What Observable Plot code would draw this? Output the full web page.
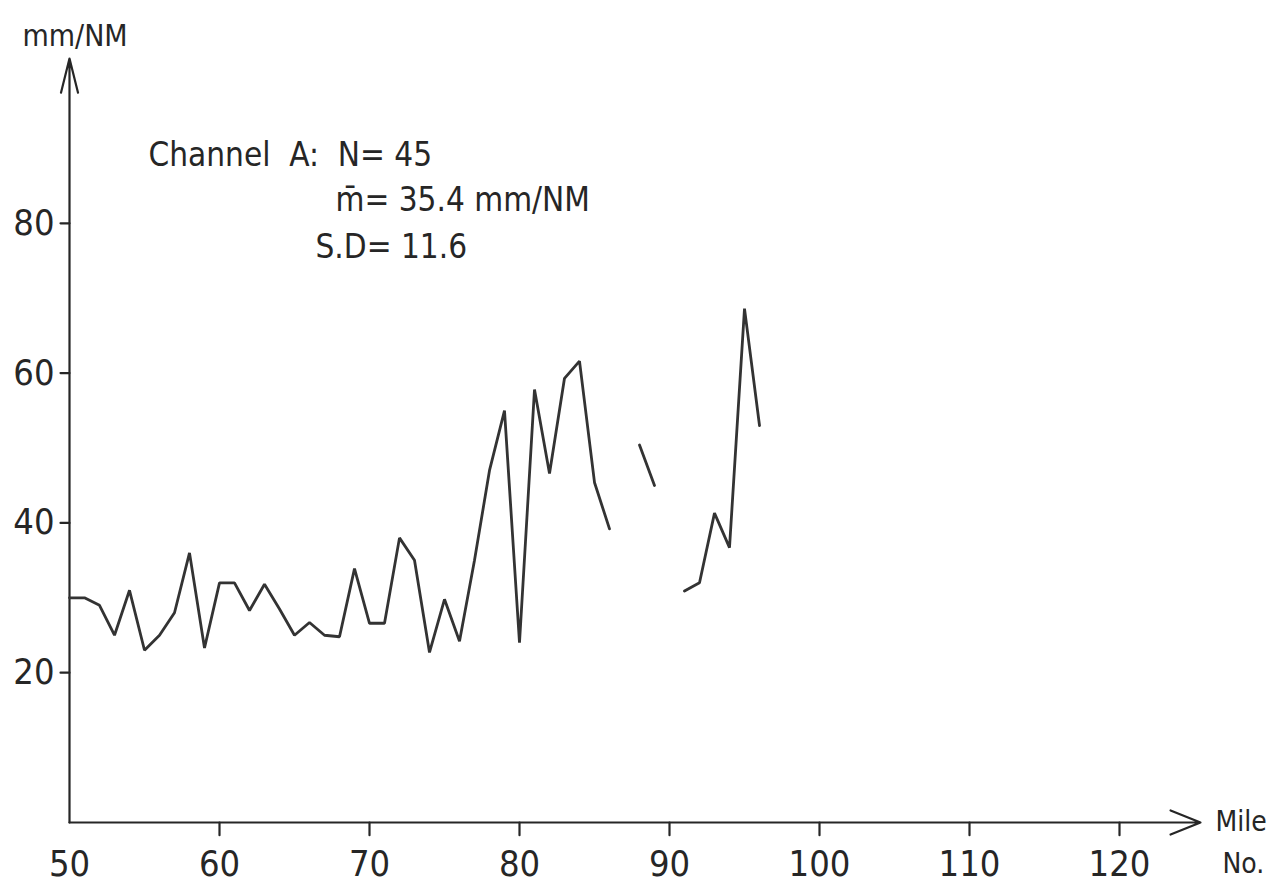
<!DOCTYPE html>
<html><head><meta charset="utf-8">
<script src="https://cdn.jsdelivr.net/npm/d3@7"></script>
<script src="https://cdn.jsdelivr.net/npm/@observablehq/plot@0.6"></script>
<style>
html,body{margin:0;padding:0;background:#fff;}
</style></head><body><div id="chart"></div>
<script>
// Mile numbers (miles 87 and 90 have no reading -> gaps)
const miles  = [50,51,52,53,54,55,56,57,58,59,60,61,62,63,64,65,66,67,68,69,70,71,72,73,74,75,76,77,78,79,80,81,82,83,84,85,86,87,88,89,90,91,92,93,94,95,96];
// Channel A, mm/NM
const values = [30,30,29,25,31,23,25,28,36,23.3,32,32,28.3,31.8,28.5,25,26.7,25,24.8,33.9,26.6,26.6,38,35,22.7,29.8,24.2,35,47,55,24,57.8,46.6,59.3,61.6,45.4,39.2,null,50.4,45,null,30.9,32,41.3,36.7,68.6,53];
const xTicks = [50,60,70,80,90,100,110,120];
const yTicks = [20,40,60,80];
const xDomain = [50,125.4];
const yDomain = [0,102];
const yUnit = "mm/NM";
const xUnit = ["Mile","No."];
const notes = ["Channel  A:  N= 45", "m\u0304= 35.4 mm/NM", "S.D= 11.6"];

const data = miles.map((m,i) => ({mile: m, value: values[i]}));
const font = "'DejaVu Sans Condensed','DejaVu Sans',sans-serif";
const ink = "#262626";

const chart = Plot.plot({
  width: 1272,
  height: 888,
  marginLeft: 69,
  marginRight: 72,
  marginTop: 58,
  marginBottom: 66,
  style: {fontFamily: font, fontSize: "36px", color: ink, background: "#fff", overflow: "visible"},
  x: {domain: xDomain, axis: null, label: null},
  y: {domain: yDomain, axis: null, label: null},
  marks: [
    // tick labels
    Plot.axisY(yTicks, {label: null, tickSize: 0, tickPadding: 15, fontSize: 36, fill: ink}),
    Plot.axisX(xTicks, {label: null, tickSize: 0, tickPadding: 28, fontSize: 36, fill: ink}),
    // tick marks (outward, none at the origin on x), headless arrows
    Plot.arrow(xTicks.slice(1), {x1: d => d, x2: d => d, y1: () => yDomain[0], y2: () => yDomain[0] - 1.7, headLength: 0, stroke: ink, strokeWidth: 2.2}),
    Plot.arrow(yTicks, {y1: d => d, y2: d => d, x1: () => xDomain[0], x2: () => xDomain[0] - 0.6, headLength: 0, stroke: ink, strokeWidth: 2.2}),
    // axes with arrowheads
    Plot.arrow([0], {x1: xDomain[0], y1: yDomain[0], x2: xDomain[0], y2: yDomain[1], stroke: ink, strokeWidth: 2.2, headLength: 24, headAngle: 28}),
    Plot.arrow([0], {x1: xDomain[0], y1: yDomain[0], x2: xDomain[1], y2: yDomain[0], stroke: ink, strokeWidth: 2.2, headLength: 22, headAngle: 44}),
    // data line
    Plot.line(data, {x: "mile", y: "value", stroke: "#333", strokeWidth: 2.8, strokeLinejoin: "miter", curve: "linear"}),
    // unit labels
    Plot.text([yUnit], {frameAnchor: "top-left", dx: -47, dy: -22, textAnchor: "start", lineAnchor: "middle", fontSize: 30, fill: ink}),
    Plot.text([xUnit[0]], {frameAnchor: "bottom-right", dx: 15, dy: 0, textAnchor: "start", lineAnchor: "middle", fontSize: 28, fill: ink}),
    Plot.text([xUnit[1]], {frameAnchor: "bottom-right", dx: 22, dy: 42, textAnchor: "start", lineAnchor: "middle", fontSize: 28, fill: ink}),
    // annotation block
    Plot.text([notes[0]], {frameAnchor: "top-left", dx: 79, dy: 97, textAnchor: "start", lineAnchor: "middle", fontSize: 33, fill: ink}),
    Plot.text([notes[1]], {frameAnchor: "top-left", dx: 266, dy: 142, textAnchor: "start", lineAnchor: "middle", fontSize: 33, fill: ink}),
    Plot.text([notes[2]], {frameAnchor: "top-left", dx: 246, dy: 189, textAnchor: "start", lineAnchor: "middle", fontSize: 33, fill: ink})
  ]
});
document.getElementById("chart").appendChild(chart);
</script>
</body></html>
